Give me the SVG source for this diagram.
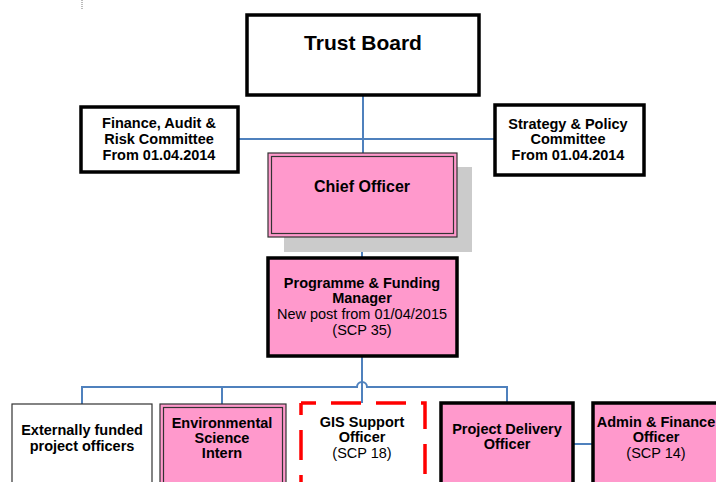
<svg xmlns="http://www.w3.org/2000/svg" width="716" height="482" viewBox="0 0 716 482">
  <style>
    .b { font-family: "Liberation Sans", Arial, sans-serif; font-weight: bold; font-size: 14.5px; fill: #000; text-anchor: middle; }
    .r { font-family: "Liberation Sans", Arial, sans-serif; font-size: 14.5px; fill: #000; text-anchor: middle; }
    .thick { fill: #fff; stroke: #000; stroke-width: 3.5; }
    .pink { fill: #FF99CC; }
    .line { fill: none; stroke: #4F81BD; stroke-width: 2; }
    .dash { fill: none; stroke: #FF0000; stroke-width: 3.5; stroke-dasharray: 30 15; }
  </style>
  <rect width="716" height="482" fill="#fff"/>
  <line x1="82" y1="0" x2="82" y2="9" stroke="#777" stroke-width="1" stroke-dasharray="1,1"/>

  <g id="connectors">
    <line class="line" x1="363" y1="96" x2="363" y2="153"/>
    <line class="line" x1="238" y1="139" x2="495" y2="139"/>
    <line class="line" x1="362" y1="237" x2="362" y2="257" stroke-width="3.5"/>
    <line class="line" x1="362" y1="357" x2="362" y2="403"/>
    <path class="line" d="M82,404 V387 H357 A5,5 0 0 1 367,387 H507 V402"/>
    <line class="line" x1="222" y1="387" x2="222" y2="404"/>
    <line class="line" x1="573" y1="444" x2="592" y2="444"/>
  </g>

  <g id="trust-board">
    <rect class="thick" x="247" y="15" width="232" height="80"/>
    <text class="b" x="363" y="50" style="font-size:21px">Trust Board</text>
  </g>

  <g id="finance-committee">
    <rect class="thick" x="81" y="107" width="157" height="65"/>
    <text class="b" x="159" y="128">Finance, Audit &amp;</text>
    <text class="b" x="159" y="144">Risk Committee</text>
    <text class="b" x="159" y="160">From 01.04.2014</text>
  </g>

  <g id="strategy-committee">
    <rect class="thick" x="495" y="105" width="149" height="70"/>
    <text class="b" x="568" y="129">Strategy &amp; Policy</text>
    <text class="b" x="568" y="144">Committee</text>
    <text class="b" x="568" y="160">From 01.04.2014</text>
  </g>

  <g id="chief-officer">
    <rect x="284" y="167" width="188" height="85" fill="#CBCBCB"/>
    <rect class="pink" x="268" y="153" width="189" height="84" stroke="#333" stroke-width="1.2"/>
    <rect x="271.5" y="156.5" width="182" height="77" fill="none" stroke="#333" stroke-width="1.2"/>
    <text class="b" x="362" y="192" style="font-size:16px">Chief Officer</text>
  </g>

  <g id="programme-manager">
    <rect class="thick pink" x="268" y="258" width="189" height="98"/>
    <text class="b" x="362" y="288">Programme &amp; Funding</text>
    <text class="b" x="362" y="303">Manager</text>
    <text class="r" x="362" y="319">New post from 01/04/2015</text>
    <text class="r" x="362" y="335">(SCP 35)</text>
  </g>

  <g id="external-officers">
    <rect x="12" y="404" width="140" height="90" fill="#fff" stroke="#333" stroke-width="1.2"/>
    <text class="b" x="82" y="435">Externally funded</text>
    <text class="b" x="82" y="451">project officers</text>
  </g>

  <g id="env-science-intern">
    <rect class="pink" x="160" y="404" width="126" height="90" stroke="#333" stroke-width="1.2"/>
    <rect x="163.5" y="407.5" width="119" height="90" fill="none" stroke="#333" stroke-width="1.2"/>
    <text class="b" x="222" y="428">Environmental</text>
    <text class="b" x="222" y="443">Science</text>
    <text class="b" x="222" y="458">Intern</text>
  </g>

  <g id="gis-support">
    <rect x="301" y="403" width="124" height="90" fill="#fff"/>
    <path class="dash" d="M301,403 H425 V500" stroke-dashoffset="15"/>
    <path class="dash" d="M301,403 V500" stroke-dashoffset="18"/>
    <text class="b" x="362" y="427">GIS Support</text>
    <text class="b" x="362" y="442">Officer</text>
    <text class="r" x="362" y="458">(SCP 18)</text>
  </g>

  <g id="project-delivery">
    <rect class="thick pink" x="441" y="403" width="132" height="90"/>
    <text class="b" x="507" y="434">Project Delivery</text>
    <text class="b" x="507" y="449">Officer</text>
  </g>

  <g id="admin-finance">
    <rect class="thick pink" x="593" y="403" width="140" height="90"/>
    <text class="b" x="656" y="427">Admin &amp; Finance</text>
    <text class="b" x="656" y="442">Officer</text>
    <text class="r" x="656" y="458">(SCP 14)</text>
  </g>
</svg>
